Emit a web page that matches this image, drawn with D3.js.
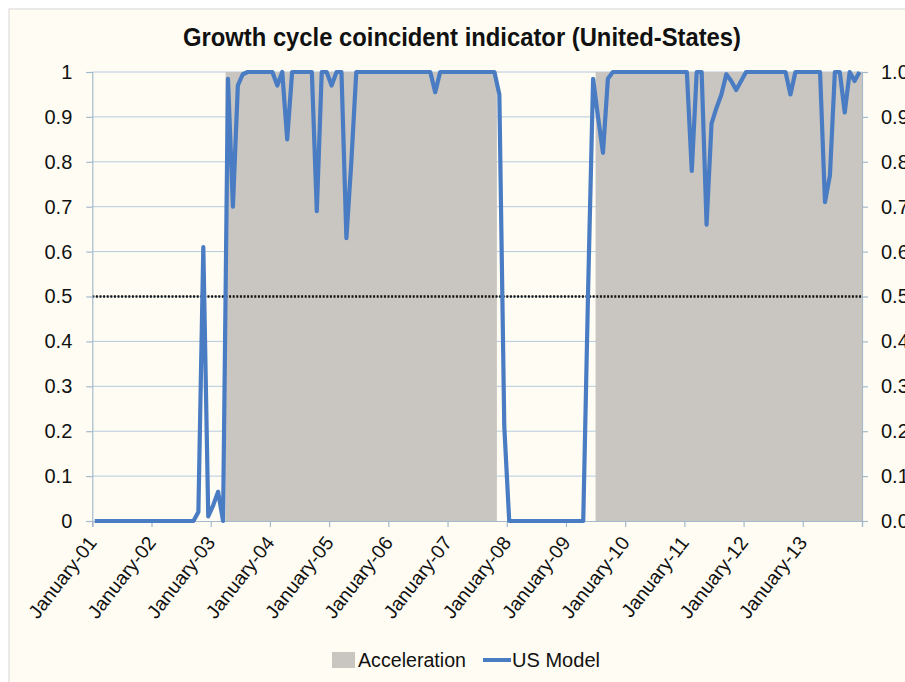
<!DOCTYPE html>
<html><head><meta charset="utf-8">
<script src="https://cdn.jsdelivr.net/npm/d3@7"></script>
<style>
html,body{margin:0;padding:0;background:#ffffff;}
svg{display:block;font-family:"Liberation Sans",Arial,sans-serif;}
</style></head>
<body>
<svg id="c" width="905" height="682"></svg>
<script>
// ---- data (monthly, Jan 2001 .. Dec 2013) ----
const years = ["01","02","03","04","05","06","07","08","09","10","11","12","13"];
const tickLabels = years.map(y => "January-" + y);
const usModel2001 = [0,0,0,0,0,0,0,0,0,0,0,0];
const usModel2002 = [0,0,0,0,0,0,0,0,0,0.02,0.61,0.01];
const usModel2003 = [0.035,0.065,0,0.985,0.70,0.97,0.995,1,1,1,1,1];
const usModel2004 = [1,0.97,1,0.85,1,1,1,1,1,0.69,1,1];
const usModel2005 = [0.97,1,1,0.63,0.80,1,1,1,1,1,1,1];
const usModel2006 = [1,1,1,1,1,1,1,1,1,0.955,1,1];
const usModel2007 = [1,1,1,1,1,1,1,1,1,1,0.95,0.21];
const usModel2008 = [0,0,0,0,0,0,0,0,0,0,0,0];
const usModel2009 = [0,0,0,0,0.52,0.985,0.90,0.82,0.985,1,1,1];
const usModel2010 = [1,1,1,1,1,1,1,1,1,1,1,1];
const usModel2011 = [1,0.78,1,1,0.66,0.885,0.92,0.95,0.995,0.98,0.96,0.98];
const usModel2012 = [1,1,1,1,1,1,1,1,1,0.95,1,1];
const usModel2013 = [1,1,1,1,0.71,0.77,1,1,0.91,1,0.98,1];
const usModel = [].concat(usModel2001,usModel2002,usModel2003,usModel2004,usModel2005,
  usModel2006,usModel2007,usModel2008,usModel2009,usModel2010,usModel2011,usModel2012,usModel2013);
// acceleration regime (1 = acceleration)
const accel2001 = [0,0,0,0,0,0,0,0,0,0,0,0];
const accel2002 = [0,0,0,0,0,0,0,0,0,0,0,0];
const accel2003 = [0,0,0,1,1,1,1,1,1,1,1,1];
const accel2004 = [1,1,1,1,1,1,1,1,1,1,1,1];
const accel2005 = [1,1,1,1,1,1,1,1,1,1,1,1];
const accel2006 = [1,1,1,1,1,1,1,1,1,1,1,1];
const accel2007 = [1,1,1,1,1,1,1,1,1,1,0,0];
const accel2008 = [0,0,0,0,0,0,0,0,0,0,0,0];
const accel2009 = [0,0,0,0,0,0,1,1,1,1,1,1];
const accel2010 = [1,1,1,1,1,1,1,1,1,1,1,1];
const accel2011 = [1,1,1,1,1,1,1,1,1,1,1,1];
const accel2012 = [1,1,1,1,1,1,1,1,1,1,1,1];
const accel2013 = [1,1,1,1,1,1,1,1,1,1,1,1];
const acceleration = [].concat(accel2001,accel2002,accel2003,accel2004,accel2005,accel2006,
  accel2007,accel2008,accel2009,accel2010,accel2011,accel2012,accel2013);
const threshold = 0.5;
const yTicks = [0,0.1,0.2,0.3,0.4,0.5,0.6,0.7,0.8,0.9,1];

// ---- layout ----
const L = 92.3, R = 862, T = 72, B = 521;
const n = usModel.length;
const svg = d3.select("#c");
svg.append("rect").attr("x",9).attr("y",9).attr("width",920).attr("height",700)
  .attr("fill","#fffdf3").attr("stroke","#d6d6d6").attr("stroke-width",1);

const x = d3.scaleLinear().domain([0, n]).range([L, R]);
const y = d3.scaleLinear().domain([0, 1]).range([B, T]);

// gridlines
svg.append("g").selectAll("line").data(yTicks.filter(v => v > 0)).join("line")
  .attr("x1", L).attr("x2", R).attr("y1", d => y(d)).attr("y2", d => y(d))
  .attr("stroke", "#b4cadd").attr("stroke-width", 1);

// acceleration area
const areaData = acceleration.map((v,i) => ({i, v}));
areaData.push({i: n, v: acceleration[n-1]});
svg.append("path").datum(areaData)
  .attr("d", d3.area().x(d => x(d.i)).y0(y(0)).y1(d => y(d.v)).curve(d3.curveStepAfter))
  .attr("fill", "#c9c6c1");

// threshold dotted line
svg.append("path").datum([0, n])
  .attr("d", d3.line().x(d => x(d)).y(() => y(threshold)))
  .attr("stroke", "#111").attr("stroke-width", 2.4).attr("stroke-dasharray", "2,1.6").attr("fill","none");

// axes
const axisColor = "#a3b9cc";
const gL = svg.append("g").attr("transform", `translate(${L},0)`)
  .call(d3.axisLeft(y).tickValues(yTicks).tickSize(6).tickPadding(14).tickFormat(d => d === 0 ? "0" : d === 1 ? "1" : d3.format(".1f")(d)));
const gR = svg.append("g").attr("transform", `translate(${R},0)`)
  .call(d3.axisRight(y).tickValues(yTicks).tickSize(6).tickPadding(13).tickFormat(d3.format(".1f")));
const gB = svg.append("g").attr("transform", `translate(0,${B})`)
  .call(d3.axisBottom(x).tickValues(d3.range(0, n + 1, 12)).tickSize(6).tickFormat(d => tickLabels[d/12] || ""));
[gL, gR, gB].forEach(g => {
  g.selectAll(".domain").attr("stroke", axisColor).attr("stroke-width", 1.2);
  g.selectAll(".tick line").attr("stroke", axisColor).attr("stroke-width", 1.2);
  g.selectAll("text").attr("fill", "#111").attr("font-size", 20).attr("font-family", "Liberation Sans, Arial, sans-serif");
});
gB.selectAll(".tick text")
  .attr("text-anchor", "end").attr("dy", null).attr("y", 0)
  .attr("transform", "translate(5,22) rotate(-52)").attr("font-size", 19.5);

// US Model line
svg.append("path").datum(usModel)
  .attr("d", d3.line().x((d,i) => x(i + 0.5)).y(d => y(d)))
  .attr("fill", "none").attr("stroke", "#4a7cc3").attr("stroke-width", 4.2).attr("stroke-linejoin", "round");

// title
svg.append("text").attr("x", 462).attr("y", 46).attr("text-anchor", "middle")
  .attr("font-size", 26).attr("font-weight", "bold").attr("fill", "#111")
  .attr("textLength", 558).attr("lengthAdjust", "spacingAndGlyphs")
  .text("Growth cycle coincident indicator (United-States)");

// legend
const lg = svg.append("g");
lg.append("rect").attr("x", 332).attr("y", 652).attr("width", 23).attr("height", 16).attr("fill", "#c9c6c1");
lg.append("text").attr("x", 358).attr("y", 667).attr("font-size", 20).attr("fill", "#111")
  .attr("textLength", 108).attr("lengthAdjust", "spacingAndGlyphs").text("Acceleration");
lg.append("line").attr("x1", 483).attr("x2", 511).attr("y1", 660).attr("y2", 660)
  .attr("stroke", "#4a7cc3").attr("stroke-width", 4);
lg.append("text").attr("x", 512).attr("y", 667).attr("font-size", 20).attr("fill", "#111")
  .attr("textLength", 88).attr("lengthAdjust", "spacingAndGlyphs").text("US Model");
</script>
</body></html>
